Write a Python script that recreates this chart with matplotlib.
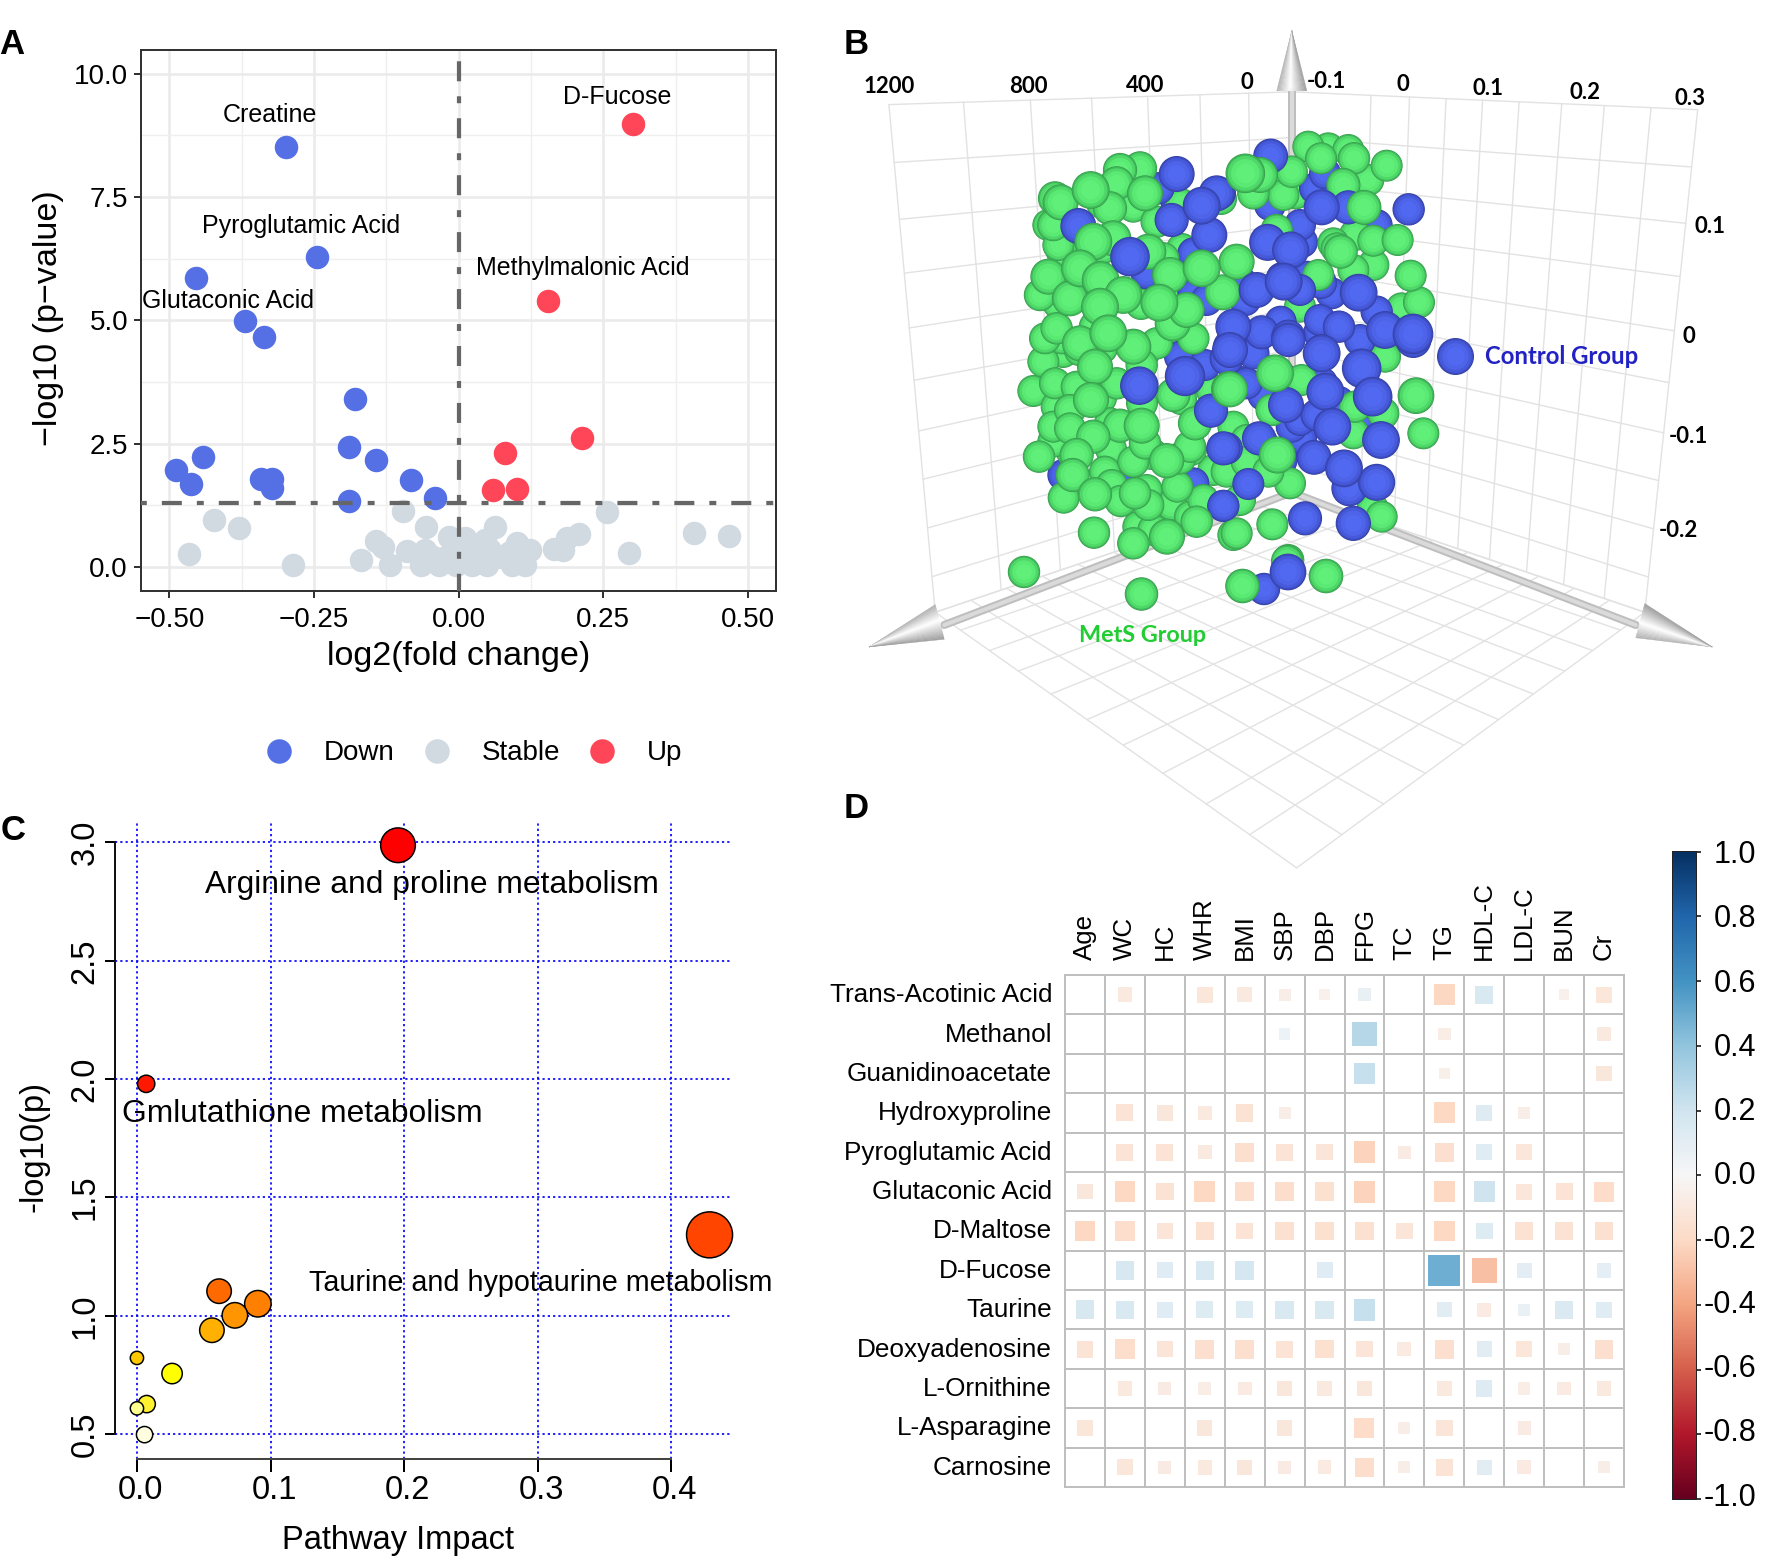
import numpy as np
import matplotlib
matplotlib.use("Agg")
import matplotlib.pyplot as plt
from matplotlib.patches import Polygon
from matplotlib.transforms import ScaledTranslation

plt.rcParams['font.family'] = ['Liberation Sans', 'DejaVu Sans']
plt.rcParams['lines.scale_dashes'] = False

W, H = 1773, 1562
DPI = 100

# ---------- Panel A data
down_x = [-0.298,-0.245,-0.454,-0.369,-0.337,-0.179,-0.19,-0.142,-0.441,-0.489,-0.463,-0.341,-0.322,-0.322,-0.083,-0.041,-0.19]
down_y = [8.52,6.28,5.85,4.98,4.67,3.41,2.44,2.18,2.24,1.97,1.68,1.78,1.78,1.6,1.76,1.40,1.34]
up_x = [0.302,0.155,0.214,0.08,0.06,0.101]
up_y = [8.98,5.39,2.61,2.31,1.57,1.59]
stable_x = [-0.097,0.257,-0.422,-0.38,-0.466,-0.286,-0.169,-0.142,-0.131,-0.118,-0.089,-0.056,-0.058,-0.065,-0.034,-0.017,-0.021,-0.004,
            0.011,0.023,0.049,0.045,0.063,0.027,0.054,0.093,0.1,0.115,0.124,0.089,0.164,0.18,0.188,0.208,0.294,0.406,0.467,-0.045,0.005,0.105,0.075,-0.01]
stable_y = [1.13,1.11,0.95,0.80,0.27,0.05,0.14,0.52,0.40,0.05,0.32,0.81,0.35,0.05,0.05,0.62,0.2,0.05,
            0.6,0.05,0.05,0.55,0.81,0.3,0.35,0.05,0.48,0.05,0.35,0.3,0.37,0.35,0.6,0.68,0.28,0.69,0.64,0.2,0.2,0.2,0.2,0.3]
a_labels = ["Creatine","D-Fucose","Pyroglutamic Acid","Methylmalonic Acid","Glutaconic Acid"]
a_label_pos = [(270,113.5),(617,95.5),(301,224),(583,266),(227.5,299.5)]

# ---------- Panel C data
path_x = [0.1954,0.0069,0.4286,0.0615,0.0905,0.0733,0.0561,0.0,0.0263,0.0073,0.0,0.0057]
path_y = [2.988,1.98,1.342,1.104,1.051,1.002,0.939,0.822,0.756,0.627,0.609,0.498]
path_d = [34.7,17.3,46,24.5,26.5,25.5,24.5,13.3,20.4,17.3,13.3,16.3]
path_c = ['#FF0000','#FF1800','#FF4500','#FF6A00','#FF7F00','#FF9500','#FFB000','#FFC800','#FFFF00','#FFF030','#FFFF90','#FFFFE0']

# ---------- Panel D data
d_cols = ["Age","WC","HC","WHR","BMI","SBP","DBP","FPG","TC","TG","HDL-C","LDL-C","BUN","Cr"]
d_rows = ["Trans-Acotinic Acid","Methanol","Guanidinoacetate","Hydroxyproline","Pyroglutamic Acid","Glutaconic Acid",
          "D-Maltose","D-Fucose","Taurine","Deoxyadenosine","L-Ornithine","L-Asparagine","Carnosine"]
d_vals = [
 [0,-.13,0,-.16,-.13,-.09,-.07,.10,0,-.28,.21,0,-.07,-.16],
 [0,0,0,0,0,.08,0,.37,0,-.10,0,0,0,-.13],
 [0,0,0,0,0,0,0,.30,0,-.08,0,0,0,-.15],
 [0,-.18,-.15,-.13,-.19,-.09,0,0,0,-.27,.17,-.09,0,0],
 [0,-.18,-.18,-.13,-.22,-.18,-.17,-.30,-.11,-.22,.16,-.16,0,0],
 [-.15,-.27,-.19,-.27,-.24,-.24,-.21,-.30,0,-.27,.27,-.16,-.18,-.25],
 [-.27,-.24,-.17,-.21,-.18,-.21,-.21,-.21,-.17,-.27,.18,-.20,-.20,-.21],
 [0,.22,.16,.21,.23,0,.16,0,0,.63,-.39,.14,0,.13],
 [.22,.21,.16,.18,.18,.21,.21,.30,0,.15,-.12,.09,.20,.16],
 [-.18,-.24,-.17,-.22,-.22,-.18,-.21,-.17,-.12,-.22,.15,-.16,-.09,-.22],
 [0,-.13,-.11,-.10,-.12,-.15,-.13,-.15,0,-.13,.17,-.10,-.12,-.13],
 [-.16,0,0,-.15,0,-.15,0,-.25,-.09,-.17,0,-.11,0,0],
 [0,-.16,-.11,-.13,-.15,-.11,-.12,-.24,-.09,-.18,.15,-.12,0,-.09],
]
cbar_ticks = [1.0,0.8,0.6,0.4,0.2,0.0,-0.2,-0.4,-0.6,-0.8,-1.0]

# ---------- Panel B data: projected sphere centre x, y, visible diameter, read in four 3x crops
origin5 = (1020,130)
green5 = [(360,115,95),(300,120,95),(290,160,95),(212,180,105),(375,190,100),(105,205,95),(122,217,100),(85,285,85),(100,285,90),(115,345,85),
          (270,235,95),(340,230,80),(410,275,90),(220,335,105),(280,325,100),(385,365,100),(430,385,90),(180,415,105),(85,440,100),(242,450,105),
          (450,435,100),(310,495,105),(60,495,90),(150,505,100),(240,530,105),(418,518,105),(545,415,105),(608,487,100),(645,395,90),
          (458,580,100),(500,540,100),(110,595,90),(125,625,85),(75,625,85),(180,640,100),(225,590,90),(265,610,105),(340,650,100),(410,640,90),(520,625,90)]
blue5 = [(415,175,90),(470,132,100),(175,288,100),(455,270,95),(330,380,110),(380,430,70),(545,227,105),(590,190,100),(568,315,100),
         (520,370,80),(470,220,60),(520,490,70),(560,510,70),(640,590,100),(630,650,95)]
origin6 = (1220,130)
green6 = [(76,130,110),(120,135,100),(215,125,90),(100,190,90),(190,195,85),(228,190,60),(265,50,70),(325,55,60),(303,85,85),(385,60,80),(402,85,90),
          (500,107,85),(370,165,95),(445,150,70),(432,232,97),(405,315,75),(460,332,85),(533,330,87),(340,340,80),(350,355,80),(362,365,95),
          (170,300,90),(50,395,100),(295,435,70),(400,420,80),(460,405,60),(572,437,87),(597,517,83),(545,535,65),(240,530,80),(10,490,90)]
blue6 = [(152,78,97),(315,130,80),(285,175,60),(305,232,100),(385,232,95),(566,238,90),(470,285,60),(240,285,85),(150,225,50),(0,190,80),
         (143,337,103),(212,360,103),(191,455,105),(110,480,100),(240,480,85),(260,440,60),(416,488,105),(335,490,60),(470,545,90),(300,570,85),
         (357,590,90),(495,600,105),(579,612,113),(182,575,85),(125,607,95),(205,620,95),(40,600,85),(35,660,70),(305,660,80),(420,630,80),(75,510,90)]
origin7 = (1020,340)
green7 = [(180,30,90),(70,65,80),(225,80,100),(40,153,75),(105,130,85),(170,140,85),(213,180,100),(150,210,85),(110,200,75),(290,130,90),(365,75,90),
          (460,165,95),(300,257,95),(365,257,100),(220,290,95),(150,265,85),(100,260,75),(100,305,70),(270,250,80),(525,250,95),(575,150,80),(627,147,100),
          (375,310,90),(440,362,98),(480,355,90),(57,350,90),(170,345,95),(340,365,80),(255,395,75),(158,405,95),(275,435,80),(225,463,95),(302,483,90),
          (345,460,90),(380,450,70),(131,473,88),(385,495,85),(455,495,65),(472,440,87),(550,480,85),(510,530,70),(530,545,90),(222,578,90),(355,560,60),
          (400,570,75),(441,590,100),(340,610,90),(640,585,60),(580,390,60),(640,360,50),(510,320,90),(640,260,60)]
blue7 = [(358,137,107),(495,108,112),(480,50,70),(555,75,80),(620,55,95),(573,212,95),(610,325,95),(130,405,55),(300,420,40),(520,430,60),(610,498,85)]
origin8 = (1220,340)
green8 = [(495,50,70),(165,100,105),(245,120,70),(30,148,100),(405,200,90),(490,220,80),(155,210,90),(400,280,65),(588,167,102),(610,280,85),(80,300,70),
          (172,345,103),(145,395,85),(210,430,83),(80,365,70),(20,395,60),(60,480,80),(157,553,82),(50,580,85),(485,530,82),(458,505,75),(205,660,60)]
blue8 = [(30,30,100),(100,40,90),(205,0,95),(305,40,105),(425,85,110),(580,0,100),(80,130,70),(316,155,105),(458,170,110),(198,195,100),(130,165,60),
         (290,225,90),(337,260,105),(240,240,80),(215,260,70),(420,245,60),(483,300,105),(117,295,95),(20,325,90),(185,360,70),(282,352,97),(240,300,60),
         (372,385,105),(470,427,103),(388,445,100),(85,432,87),(10,497,85),(255,535,95),(400,550,98)]
# stragglers and mostly hidden spheres, in figure pixels
green_px = [(1024,572,30),(1141.5,594,31),(1242.5,586,32),(1287,561,28),(1326,576,32),
            (1062,252,20),(1103,248,20),(1143,254,20),(1182,249,20),(1058,303,20),(1100,298,20),(1141,304,20),(1183,299,20),
            (1063,352,20),(1102,348,20),(1144,353,20),(1184,349,20),(1061,402,20),(1101,398,20),(1142,403,20),(1181,399,20),
            (1072,452,20),(1111,449,20),(1152,454,20),(1191,450,20),(1102,203,20),(1142,198,20),(1181,204,20),(1221,199,20)]
blue_px = [(1264,589,30),(1288,572,34),
           (1241,282,20),(1282,278,20),(1321,283,20),(1238,332,20),(1279,328,20),(1319,333,20),(1241,382,20),(1282,378,20),(1322,383,20),
           (1302,242,20),(1262,442,20),(1301,438,20),(1339,402,20)]
b_axis_labels = [("1200",98,166),("800",330,165),("400",524,163),("0",693,158),("-0.1",826,156),("0",952,162),("0.1",1094,170),("0.2",1256,178),("0.3",1431,190),
                 ("0.1",1464,440),("0",1428,655),("-0.1",1428,852),("-0.2",1411,1036)]

# ---------- helpers
fig = plt.figure(figsize=(W/DPI, H/DPI), dpi=DPI, facecolor='white')

def axpx(l, t, r, b, **kw):
    return fig.add_axes([l/W, 1-b/H, (r-l)/W, (b-t)/H], **kw)

def px2pt(p):
    return p*72/DPI

def shift(px_x, px_y):
    return ScaledTranslation(px_x/DPI, px_y/DPI, fig.dpi_scale_trans)

ov = axpx(0, 0, W, H, zorder=5)
ov.set_xlim(0, W); ov.set_ylim(H, 0); ov.axis('off'); ov.patch.set_alpha(0)

def T(x, y, s, size, **kw):
    kw.setdefault('ha', 'center'); kw.setdefault('va', 'center')
    if kw.get('rotation') is None:
        y = y+2
    ov.text(x, y, s, fontsize=size, **kw)

# ---------- Panel A
axA = axpx(141, 50, 776, 591, zorder=1)
axA.set_xlim(-0.549, 0.5485); axA.set_ylim(-0.484, 10.48)
axA.set_axisbelow(True)
for v in [-0.5,-0.25,0,0.25,0.5]:
    axA.axvline(v, color='#EBEBEB', lw=px2pt(2.6), zorder=0)
for v in [-0.375,-0.125,0.125,0.375]:
    axA.axvline(v, color='#EFEFEF', lw=px2pt(1.4), zorder=0)
for v in [0,2.5,5,7.5,10]:
    axA.axhline(v, color='#EBEBEB', lw=px2pt(2.6), zorder=0)
for v in [1.25,3.75,6.25,8.75]:
    axA.axhline(v, color='#EFEFEF', lw=px2pt(1.4), zorder=0)
sA = px2pt(23.5)**2
axA.scatter(stable_x, stable_y, s=sA, c='#D1D9E1', linewidths=0, zorder=2)
axA.scatter(down_x, down_y, s=sA, c='#5470E4', linewidths=0, zorder=3)
axA.scatter(up_x, up_y, s=sA, c='#FF4658', linewidths=0, zorder=3)
dash = (14.4, 10.8, 5, 10.8)
axA.axhline(1.3, color='#666666', lw=px2pt(4.2), linestyle=(26, dash), zorder=4, dash_capstyle='butt')
axA.axvline(0, color='#666666', lw=px2pt(4.2), linestyle=(2, dash), zorder=4, dash_capstyle='butt')
axA.set_xticks([-0.5,-0.25,0,0.25,0.5]); axA.set_xticklabels(["\u22120.50","\u22120.25","0.00","0.25","0.50"])
axA.set_yticks([0,2.5,5,7.5,10]); axA.set_yticklabels(["0.0","2.5","5.0","7.5","10.0"])
axA.tick_params(axis='x', labelsize=20, length=px2pt(7), width=px2pt(2), color='#333333', pad=px2pt(9))
axA.tick_params(axis='y', labelsize=20, length=px2pt(7), width=px2pt(2), color='#333333', pad=px2pt(6))
for sp in axA.spines.values():
    sp.set_color('#333333'); sp.set_linewidth(px2pt(2))
T(459, 654, "log2(fold change)", 24.6)
T(49, 318, "\u2212log10 (p\u2212value)", 24.6, rotation=90)
for s, (x, y) in zip(a_labels, a_label_pos):
    T(x, y, s, 18)
for x, c in [(279,'#5470E4'),(437,'#D1D9E1'),(602,'#FF4658')]:
    ov.scatter([x], [751], s=px2pt(24.5)**2, c=c, linewidths=0)
for x, s in [(324,"Down"),(482,"Stable"),(647,"Up")]:
    T(x, 751, s, 20, ha='left')

# ---------- Panel B
Z = lambda zx, zy: (830+zx/1.663, zy/1.96)
TL, TB, BB, BL, TR, BR, F = [np.array(Z(*p)) for p in
    [(98,205),(768,180),(768,965),(175,1200),(1443,215),(1355,1200),(776,1701)]]
gc = '#E2E2E2'
def L(p, q, lw=1.0, c=gc, z=1):
    ov.plot([p[0],q[0]], [p[1],q[1]], color=c, lw=lw, zorder=z, solid_capstyle='round')
def lerp(a, b, t):
    return a+(b-a)*t
hfr = [0,.114,.226,.332,.44,.543,.643,.738,.834,.93,1]
for t in hfr:
    L(lerp(TL,BL,t), lerp(TB,BB,t))
    L(lerp(TR,BR,t), lerp(TB,BB,t))
for f in [0,.185,.351,.503,.642,.772,.893,1]:
    L(lerp(TL,TB,f), lerp(BL,BB,f))
for f in [0,.115,.23,.335,.44,.53,.62,.71,.805,1]:
    L(lerp(TR,TB,f), lerp(BR,BB,f))
ffr = [.07,.15,.23,.32,.42,.52,.63,.75,.87]
gfr = [.1,.2,.3,.4,.5,.6,.7,.8,.9]
L(BL, F); L(BR, F); L(BL, BB); L(BR, BB)
for f, g in zip(ffr, gfr):
    L(lerp(BL,F,f), lerp(BB,BR,g))
    L(lerp(BR,F,f), lerp(BB,BL,g))

def cone(tip, b1, b2, n=24):
    tip, b1, b2 = [np.array(Z(*p)) for p in (tip, b1, b2)]
    for i in range(n):
        t0, t1 = i/n, (i+1)/n
        g = 0.62+0.38*(1-min(1, abs((t0+t1)-0.9)/1.1))
        ov.add_patch(Polygon([tip, lerp(b1,b2,t0), lerp(b1,b2,t1)], closed=True, fc=(g,g,g), ec=(g,g,g), lw=0.3, zorder=3))
ends = [(768,180),(190,1225),(1340,1225)]
for e in ends:
    p = np.array(Z(*e))
    L(BB, p, lw=px2pt(8), c='#BEBEBE', z=2)
    L(BB, p, lw=px2pt(4), c='#DADADA', z=2)
cone((768,60),(743,178),(793,178))
cone((65,1268),(175,1185),(190,1253))
cone((1467,1268),(1340,1250),(1355,1183))

sph = []
def add(lst, origin, kind):
    for cx, cy, d in lst:
        sph.append((origin[0]+cx/3, origin[1]+cy/3, d/3, kind))
for o, g, b in [(origin5,green5,blue5),(origin6,green6,blue6),(origin7,green7,blue7),(origin8,green8,blue8)]:
    add(g, o, 'g'); add(b, o, 'b')
for x, y, d in green_px: sph.append((x, y, d, 'g'))
for x, y, d in blue_px: sph.append((x, y, d, 'b'))
# partly hidden spheres were read small: they go first (far) and are drawn at full size
sph.sort(key=lambda r: r[2])
levels = [1.0,0.965,0.88,0.72,0.5]
cols = {'g':['#38964E','#3FB958','#4FD869','#5AE973','#60EF78'],
        'b':['#333F9F','#3C4BBE','#4659DA','#4D63E8','#5169F0']}
xs, ys, ss, cs = [], [], [], []
for x, y, d, k in sph:
    dd = max(d*1.08, 32)
    for lv, c in zip(levels, cols[k]):
        xs.append(x); ys.append(y); ss.append(px2pt(dd*lv)**2); cs.append(c)
ov.scatter(xs, ys, s=ss, c=cs, linewidths=0, zorder=4)
for s, zx, zy in b_axis_labels:
    x, y = Z(zx, zy)
    T(x, y, s, 16, fontfamily=['Lato','DejaVu Sans'], fontweight='bold', color='black')
x, y = Z(1217, 695); T(x, y, "Control Group", 17.2, fontfamily=['Lato','DejaVu Sans'], fontweight='bold', color='#2222C4')
x, y = Z(519, 1241); T(x, y, "MetS Group", 16.8, fontfamily=['Lato','DejaVu Sans'], fontweight='bold', color='#22CC33')
ctrl = Z(1040, 698)
for lv, c in zip(levels, cols['b']):
    ov.scatter([ctrl[0]], [ctrl[1]], s=px2pt(37*lv)**2, c=c, linewidths=0, zorder=4.5)

# ---------- Panel C
axC = axpx(114.5, 823, 732, 1459, zorder=1)
axC.set_xlim(-0.0168, 0.4454); axC.set_ylim(0.395, 3.082)
for sp in ['top','right']:
    axC.spines[sp].set_visible(False)
axC.spines['left'].set_bounds(0.5, 3.0); axC.spines['bottom'].set_bounds(0, 0.4)
axC.spines['left'].set_linewidth(px2pt(2)); axC.spines['left'].set_color('#111111')
axC.spines['bottom'].set_linewidth(px2pt(2)); axC.spines['bottom'].set_color('#444444')
for v in [0,0.1,0.2,0.3,0.4]:
    axC.axvline(v, color='#0000FF', lw=px2pt(1.7), linestyle=(0,(1.6,2.2)), zorder=1)
for v in [0.5,1.0,1.5,2.0,2.5,3.0]:
    axC.axhline(v, color='#0000FF', lw=px2pt(1.7), linestyle=(0,(1.6,2.2)), zorder=1)
axC.scatter(path_x, path_y, s=[px2pt(d)**2 for d in path_d], c=path_c, edgecolors='black', linewidths=px2pt(1.5), zorder=3, clip_on=False)
axC.set_xticks([0,0.1,0.2,0.3,0.4]); axC.set_xticklabels(["0.0","0.1","0.2","0.3","0.4"])
axC.set_yticks([0.5,1,1.5,2,2.5,3]); axC.set_yticklabels(["0.5","1.0","1.5","2.0","2.5","3.0"], rotation=90, va='center')
axC.tick_params(axis='x', labelsize=23.5, length=px2pt(13), width=px2pt(2), pad=px2pt(3))
axC.tick_params(axis='y', labelsize=23.5, length=px2pt(10), width=px2pt(2), pad=px2pt(4))
for lab in axC.get_xticklabels():
    lab.set_transform(lab.get_transform()+shift(3.5, 0))
axC.patch.set_alpha(0)
T(398, 1538, "Pathway Impact", 23.5)
T(34, 1147, "-log10(p)", 23.5, rotation=90)
T(431.6, 882.6, "Arginine and proline metabolism", 22.9)
T(302.6, 1112, "Gmlutathione metabolism", 22.9)
T(541, 1281, "Taurine and hypotaurine metabolism", 20.7)

# ---------- Panel D
axD = axpx(1065, 975, 1624, 1487, zorder=1)
axD.set_xlim(0, 14); axD.set_ylim(13, 0)
vals = np.array(d_vals)
yy, xx = np.nonzero(vals)
cell_pt = px2pt(39.9)
axD.scatter(xx+0.5, yy+0.5, s=cell_pt**2*np.abs(vals[yy, xx]), c=vals[yy, xx], cmap='RdBu', vmin=-1.3, vmax=1.3, marker='s', linewidths=0, zorder=2)
for i in range(15):
    axD.axvline(i, color='#BFBFBF', lw=px2pt(2), zorder=1, clip_on=False)
for j in range(14):
    axD.axhline(j, color='#BFBFBF', lw=px2pt(2), zorder=1, clip_on=False)
axD.xaxis.tick_top()
axD.set_xticks(np.arange(14)+0.5); axD.set_xticklabels(d_cols, rotation=90, fontsize=18.6)
axD.set_yticks(np.arange(13)+0.5); axD.set_yticklabels(d_rows, fontsize=18.8)
axD.tick_params(axis='x', length=0, pad=px2pt(15))
axD.tick_params(axis='y', length=0, pad=px2pt(13))
for lab in axD.get_yticklabels():
    lab.set_transform(lab.get_transform()+shift(0, 2))
for sp in axD.spines.values():
    sp.set_visible(False)

cax = axpx(1672, 851.5, 1696, 1499, zorder=1)
cax.imshow(np.linspace(1, -1, 256).reshape(-1, 1), cmap='RdBu', vmin=-1, vmax=1, aspect='auto', extent=[0, 1, -1, 1])
cax.set_xticks([])
cax.yaxis.tick_right()
cax.set_yticks(cbar_ticks)
cax.set_yticklabels(["%.1f" % v for v in cbar_ticks], ha='right', fontsize=22)
cax.tick_params(length=px2pt(5), width=px2pt(1.5), pad=px2pt(55))
for lab, v in zip(cax.get_yticklabels(), cbar_ticks):
    lab.set_transform(lab.get_transform()+shift(0, 5*(1-v)/2))
for sp in cax.spines.values():
    sp.set_linewidth(px2pt(1)); sp.set_color('#222222')

# ---------- panel letters
for s, x, y in [("A",12,42),("B",856,42),("C",13,829),("D",856,807)]:
    T(x, y, s, 25, fontweight='bold', color='black')

fig.savefig("out.png", dpi=DPI, facecolor='white')
